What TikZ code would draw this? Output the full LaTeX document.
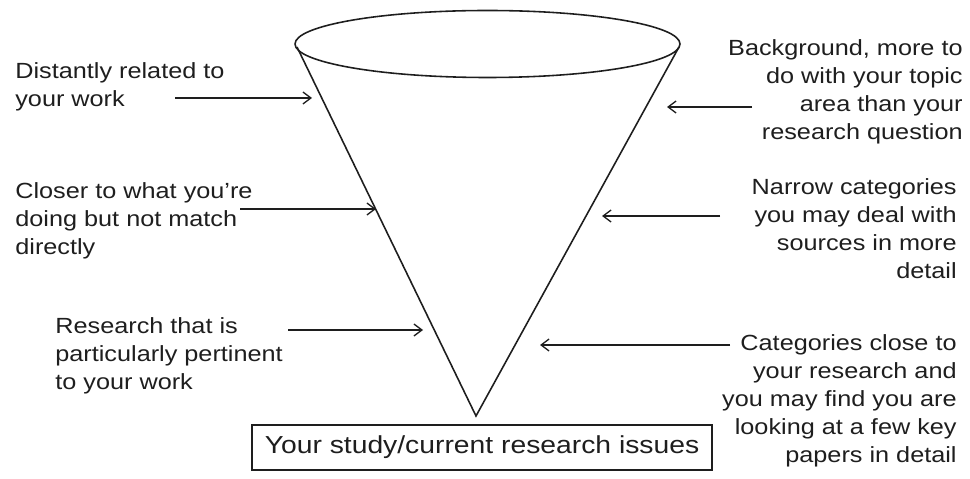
\documentclass[tikz,border=0pt]{standalone}
\usepackage{fontspec}
\setmainfont{Liberation Sans}[FakeStretch=1.15]
\usetikzlibrary{arrows.meta,shapes.geometric}
\definecolor{ink}{HTML}{1E1E1E}
\begin{document}
\begin{tikzpicture}[x=0.02cm,y=-0.02cm,
  lbl/.style={inner sep=0pt,text=ink,font=\fontsize{12.5pt}{15.9pt}\selectfont},
  lbll/.style={lbl,anchor=north west,align=left},
  lblr/.style={lbl,anchor=north east,align=right},
  cone/.style={draw=ink,line width=0.9pt},
  ptr/.style={draw=ink,line width=0.75pt,-{Straight Barb[length=0.16cm,width=0.24cm]}}]
\useasboundingbox (0,0) rectangle (970,479);
% cone
\node[cone,ellipse,minimum width=385*0.02cm,minimum height=67*0.02cm,inner sep=0pt] (rim) at (487.5,44) {};
\coordinate (lt) at (297,47);
\coordinate (rt) at (679,47);
\coordinate (apex) at (476,416);
\draw[cone] (lt) -- (apex) -- (rt);
% box
\node[cone,draw,minimum width=460*0.02cm,minimum height=45*0.02cm,inner sep=0pt,text=ink,font=\fontsize{14pt}{16pt}\selectfont] (study) at (482,447.5) {Your study/current research issues};
% left labels
\node[lbll] (l1) at (15,62) {Distantly related to\\your work};
\node[lbll] (l2) at (15,182) {Closer to what you’re\\doing but not match\\directly};
\node[lbll] (l3) at (55,317) {Research that is\\particularly pertinent\\to your work};
% right labels
\node[lblr] (r1) at (963,39) {Background, more to\\do with your topic\\area than your\\research question};
\node[lblr] (r2) at (957,178) {Narrow categories\\you may deal with\\sources in more\\detail};
\node[lblr] (r3) at (957,334) {Categories close to\\your research and\\you may find you are\\looking at a few key\\papers in detail};
% arrow ends
\coordinate (a1s) at (175,98);  \coordinate (a1e) at (312,98);
\coordinate (a2s) at (240,209); \coordinate (a2e) at (376,209);
\coordinate (a3s) at (288,330); \coordinate (a3e) at (423,330);
\coordinate (a4s) at (752,107); \coordinate (a4e) at (667,107);
\coordinate (a5s) at (720,216); \coordinate (a5e) at (602,216);
\coordinate (a6s) at (730,345); \coordinate (a6e) at (540,345);
\draw[ptr] (a1s) -- (a1e);
\draw[ptr] (a2s) -- (a2e);
\draw[ptr] (a3s) -- (a3e);
\draw[ptr] (a4s) -- (a4e);
\draw[ptr] (a5s) -- (a5e);
\draw[ptr] (a6s) -- (a6e);
\end{tikzpicture}
\end{document}
